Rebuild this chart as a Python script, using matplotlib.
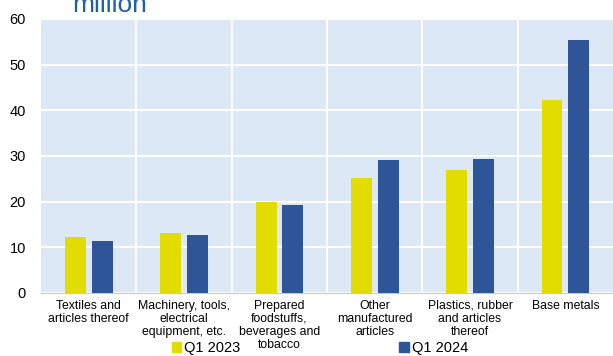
import matplotlib.pyplot as plt
import numpy as np
from matplotlib.patches import Patch

plt.rcParams['font.family'] = ['Liberation Sans', 'DejaVu Sans']

# Import values by product group, EUR million
categories = ['Textiles and\narticles thereof',
              'Machinery, tools,\nelectrical\nequipment, etc.',
              'Prepared\nfoodstuffs,\nbeverages and\ntobacco',
              'Other\nmanufactured\narticles',
              'Plastics, rubber\nand articles\nthereof',
              'Base metals']
q1_2023 = [12.2, 13.1, 20.0, 25.2, 27.0, 42.3]
q1_2024 = [11.3, 12.8, 19.3, 29.2, 29.4, 55.4]

yellow = '#e2dc00'
blue = '#2e5597'

fig = plt.figure(figsize=(6.13, 3.56), dpi=100)
ax = fig.add_axes([0.067, 0.177, 0.933, 0.770])
ax.set_facecolor('#dce8f5')

x = np.arange(len(categories))
w = 0.22
ax.bar(x - w / 2 - 0.03, q1_2023, width=w, color=yellow, zorder=3)
ax.bar(x + w / 2 + 0.03, q1_2024, width=w, color=blue, zorder=3)

ax.set_xlim(-0.5, len(categories) - 0.5)
ax.set_ylim(0, 60)
ax.set_yticks(range(0, 61, 10))
ax.yaxis.grid(True, color='white', linewidth=1.5, zorder=1)
for sep in x[:-1] + 0.5:
    ax.axvline(sep, color='white', linewidth=1.5, zorder=1)

ax.set_xticks(x)
ax.set_xticklabels(categories, fontsize=8.8, linespacing=1.1, va='top')
ax.tick_params(axis='x', length=0, pad=5)
ax.tick_params(axis='y', length=0, labelsize=10.5, pad=11)
for s in ['top', 'right', 'left']:
    ax.spines[s].set_visible(False)
ax.spines['bottom'].set_color('#c8c8c8')

fig.text(0.117, 0.985, 'million', color='#1f5fa8', fontsize=19, ha='left', va='center')

handles = [Patch(color=yellow, label='Q1 2023'), Patch(color=blue, label='Q1 2024')]
fig.legend(handles=handles, loc='lower center', bbox_to_anchor=(0.522, -0.035), ncol=2,
           frameon=False, fontsize=10.5, handlelength=0.65, handleheight=0.65,
           handletextpad=0.2, columnspacing=10.9)

fig.savefig('out.png', dpi=100)
